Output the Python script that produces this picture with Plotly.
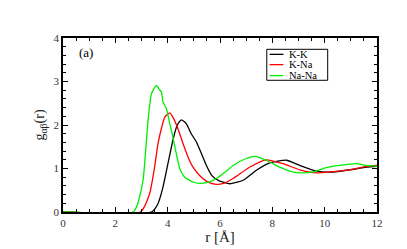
import plotly.graph_objects as go

# Na-Na
r_nana = [0, 2.68, 2.85, 3.06, 3.25, 3.38, 3.57, 3.68, 3.76, 3.82, 3.95, 4.08, 4.2, 4.33, 4.46, 4.65, 4.97, 5.22, 5.6, 5.86, 6.2, 6.5, 7.0, 7.33, 7.77, 8.28, 8.66, 9.05, 9.55, 10.06, 10.57, 11.21, 11.6, 12.0]
g_nana = [0, 0, 0.18, 0.73, 2.10, 2.72, 2.91, 2.82, 2.76, 2.53, 2.38, 2.03, 1.72, 1.34, 1.00, 0.80, 0.69, 0.66, 0.69, 0.77, 0.92, 1.07, 1.23, 1.28, 1.19, 1.03, 0.94, 0.90, 0.92, 1.02, 1.07, 1.11, 1.07, 1.05]

# K-Na
r_kna = [0, 2.96, 3.31, 3.5, 3.63, 3.76, 3.89, 4.08, 4.2, 4.39, 4.59, 4.78, 4.97, 5.22, 5.48, 5.8, 6.1, 6.5, 7.13, 7.77, 8.41, 9.05, 9.68, 10.32, 10.96, 11.6, 12.0]
g_kna = [0, 0, 0.42, 1.03, 1.57, 1.92, 2.18, 2.28, 2.18, 1.92, 1.57, 1.26, 1.03, 0.84, 0.71, 0.64, 0.65, 0.77, 1.03, 1.20, 1.11, 0.97, 0.90, 0.93, 0.97, 1.05, 1.07]

# K-K
r_kk = [0, 3.38, 3.63, 3.82, 4.01, 4.2, 4.36, 4.52, 4.71, 4.9, 5.1, 5.25, 5.48, 5.7, 5.95, 6.37, 6.88, 7.39, 7.9, 8.54, 9.05, 9.68, 10.32, 10.96, 11.6, 12.0]
g_kk = [0, 0, 0.19, 0.57, 1.11, 1.65, 1.99, 2.12, 2.03, 1.80, 1.61, 1.40, 1.07, 0.83, 0.72, 0.65, 0.73, 0.96, 1.13, 1.19, 1.07, 0.94, 0.92, 0.97, 1.03, 1.05]

series_names = ["K-K", "K-Na", "Na-Na"]
series_x = [r_kk, r_kna, r_nana]
series_y = [g_kk, g_kna, g_nana]
series_colors = ["black", "red", "#00ee00"]

fig = go.Figure()
for name, x, y, c in zip(series_names, series_x, series_y, series_colors):
    fig.add_trace(go.Scatter(x=x, y=y, mode="lines", name=name, showlegend=False,
                             line=dict(color=c, width=1.3, shape="spline", smoothing=0.5)))

serif = "Liberation Serif"
axis_common = dict(showline=True, linecolor="black", linewidth=1.5, mirror="allticks",
                   ticks="inside", ticklen=5, tickcolor="black", showgrid=False, zeroline=False,
                   tickfont=dict(family=serif, size=11, color="#333"))
fig.update_xaxes(range=[0, 12], dtick=2, minor=dict(ticks="inside", dtick=0.5, ticklen=3, tickcolor="black"),
                 title=dict(text="r [Å]", font=dict(family=serif, size=15, color="#222"), standoff=2),
                 **axis_common)
fig.update_yaxes(range=[0, 4], dtick=1, minor=dict(ticks="inside", dtick=0.2, ticklen=3, tickcolor="black"),
                 title=dict(text="g<sub>αβ</sub>(r)", font=dict(family=serif, size=14, color="#222"), standoff=6),
                 **axis_common)

fig.add_annotation(x=0.044, y=0.915, xref="paper", yref="paper", text="(a)", showarrow=False,
                   xanchor="left", yanchor="middle", font=dict(family=serif, size=13, color="black"))

# hand-drawn legend box
fig.add_shape(type="rect", xref="paper", yref="paper", x0=0.649, x1=0.843, y0=0.757, y1=0.935,
              line=dict(color="black", width=1), fillcolor="white", layer="above")
leg_y = [0.906, 0.847, 0.784]
for name, c, yy in zip(series_names, series_colors, leg_y):
    fig.add_shape(type="line", xref="paper", yref="paper", x0=0.658, x1=0.702, y0=yy, y1=yy,
                  line=dict(color=c, width=1.3), layer="above")
    fig.add_annotation(x=0.712, y=yy, xref="paper", yref="paper", text=name, showarrow=False,
                       xanchor="left", yanchor="middle", font=dict(family=serif, size=10.5, color="black"))

fig.update_layout(
    width=407, height=249,
    margin=dict(l=55, r=38, t=30, b=45),
    paper_bgcolor="white", plot_bgcolor="white",
)
fig.write_html("out.html")
